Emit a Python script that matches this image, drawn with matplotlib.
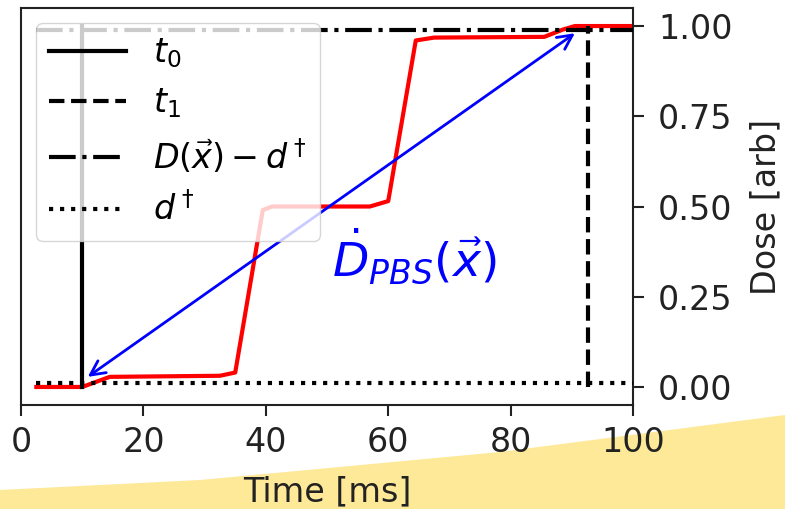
import matplotlib
matplotlib.use("Agg")
import matplotlib.pyplot as plt
from matplotlib.patches import Polygon

# Dose delivery curve (time in ms, normalised dose)
time_ms = [2.5, 10.0, 14.5, 32.5, 35.0, 39.5, 41.0, 57.0, 60.0, 64.5, 67.5, 85.5, 88.5, 90.5, 100.0]
dose = [0.0, 0.0, 0.028, 0.031, 0.04, 0.49, 0.50, 0.50, 0.515, 0.96, 0.968, 0.97, 0.99, 1.0, 1.0]

t0 = 10.0
t1 = 92.7
d_dagger = 0.01
d_top = 0.99
line_start = 2.5
line_end = 100.0

# Mean dose-rate arrow endpoints (time, dose)
rate_start = [10.9, 0.028]
rate_end = [90.5, 0.98]
rate_label = r"$\dot{D}_{PBS}(\vec{x})$"
rate_label_pos = [64.3, 0.36]

plt.rcParams["font.family"] = ["DejaVu Sans"]
plt.rcParams["mathtext.fontset"] = "dejavusans"

fig = plt.figure(figsize=(7.85, 5.09), dpi=100)
ax = fig.add_axes([0.0268, 0.2043, 0.7796, 0.7800])

ax.plot(time_ms, dose, color="red", lw=3.0, zorder=2)

ax.plot([t0, t0], [0.0, 1.0], color="black", lw=3.0, ls="-", label="$t_0$", zorder=3)
ax.plot([t1, t1], [0.0, 1.0], color="black", lw=3.0, ls="--", label="$t_1$", zorder=3)
ax.plot([line_start, line_end], [d_top, d_top], color="black", lw=3.0, ls="-.",
        label=r"$D(\vec{x})-d^\dagger$", zorder=3)
ax.plot([line_start, line_end], [d_dagger, d_dagger], color="black", lw=3.0, ls=":",
        label=r"$d^\dagger$", zorder=3)

ax.annotate("", xy=rate_start, xytext=rate_end,
            arrowprops=dict(arrowstyle="<->", color="blue", lw=2.0,
                            mutation_scale=26, shrinkA=0, shrinkB=0),
            zorder=4)
ax.text(rate_label_pos[0], rate_label_pos[1], rate_label, color="blue",
        fontsize=34, ha="center", va="center", zorder=4)

ax.set_xlim(0, 100)
ax.set_ylim(-0.05, 1.05)
ax.set_xticks([0, 20, 40, 60, 80, 100])
ax.set_yticks([0.0, 0.25, 0.5, 0.75, 1.0])
ax.set_yticklabels(["0.00", "0.25", "0.50", "0.75", "1.00"])
ax.yaxis.tick_right()
ax.yaxis.set_label_position("right")
ax.tick_params(axis="both", labelsize=24, length=8, width=1.5, colors="#222222",
               labelcolor="#222222")
ax.tick_params(axis="y", pad=10)
ax.tick_params(axis="x", pad=7)
for sp in ax.spines.values():
    sp.set_linewidth(1.5)
    sp.set_color("#222222")

ax.set_xlabel("Time [ms]", fontsize=24, color="#222222", labelpad=12)
ax.set_ylabel("Dose [arb]", fontsize=24, color="#222222", labelpad=12)

leg = ax.legend(loc="upper left", fontsize=24, handlelength=2.3,
                framealpha=0.8, borderaxespad=0.45, labelspacing=0.5)
leg.set_zorder(5)

# Decorative band along the bottom edge
band = Polygon([(0, 1 - 490 / 509), (200 / 785, 1 - 480 / 509),
                (500 / 785, 1 - 452 / 509), (1, 1 - 415 / 509),
                (1, 0), (0, 0)],
               closed=True, transform=fig.transFigure,
               facecolor="#fde998", edgecolor="none", zorder=-1)
fig.patches.append(band)

fig.savefig("out.png", dpi=100)
